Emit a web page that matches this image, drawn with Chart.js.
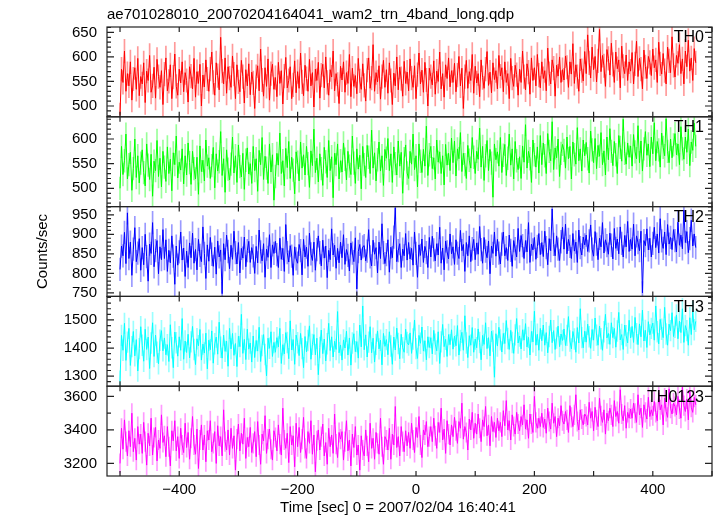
<!DOCTYPE html>
<html>
<head>
<meta charset="utf-8">
<script src="https://cdn.jsdelivr.net/npm/chart.js@4/dist/chart.umd.min.js"></script>
<style>
	html, body { margin: 0; padding: 0; background: #fff; }
	#wrap { width: 717px; height: 516px; }
</style>
</head>
<body>
<div id="wrap"><canvas id="lc"></canvas></div>
<script>
// light curve, 2.5 s bins starting at t = -500 s (15 bins per row)
var T_START = -500;
var T_STEP = 2.5;

var TH0 = [
	482, 575, 548, 612, 530, 566, 541, 590, 512, 555, 578, 534, 597, 521, 560,
	545, 588, 507, 571, 552, 603, 528, 541, 579, 516, 595, 560, 538, 572, 503,
	565, 598, 531, 550, 584, 515, 559, 606, 540, 522, 575, 547, 590, 529, 568,
	552, 508, 580, 561, 535, 597, 518, 570, 546, 585, 500, 563, 539, 594, 555,
	530, 575, 610, 548, 522, 588, 562, 533, 640, 571, 545, 598, 526, 580, 557,
	538, 602, 565, 515, 584, 549, 529, 593, 560, 506, 574, 541, 586, 523, 569,
	547, 495, 560, 582, 531, 616, 553, 520, 578, 540, 596, 512, 566, 585, 534,
	558, 519, 589, 546, 572, 504, 561, 599, 537, 552, 580, 515, 543, 592, 527,
	570, 536, 608, 549, 521, 583, 556, 530, 595, 541, 568, 498, 575, 552, 589,
	516, 563, 585, 537, 600, 548, 522, 574, 559, 612, 531, 566, 544, 505, 581,
	553, 590, 528, 568, 546, 605, 519, 577, 540, 562, 525, 597, 551, 534, 586,
	542, 510, 573, 598, 536, 557, 625, 530, 568, 549, 582, 514, 560, 593, 538,
	574, 526, 588, 552, 503, 567, 541, 600, 533, 579, 556, 520, 591, 546, 569,
	531, 596, 557, 538, 582, 515, 564, 608, 545, 573, 528, 589, 553, 500, 577,
	560, 543, 592, 524, 571, 550, 610, 535, 566, 518, 584, 556, 598, 539, 572,
	548, 587, 529, 563, 601, 541, 577, 495, 560, 593, 536, 570, 552, 605, 526,
	581, 547, 566, 519, 594, 558, 536, 575, 611, 542, 569, 527, 588, 554, 572,
	535, 603, 561, 578, 529, 590, 548, 566, 515, 597, 557, 540, 583, 564, 522,
	575, 548, 612, 560, 533, 586, 569, 524, 598, 552, 578, 541, 605, 563, 537,
	590, 556, 572, 531, 618, 566, 545, 594, 577, 520, 583, 561, 600, 548, 574,
	553, 602, 579, 538, 590, 565, 627, 546, 584, 560, 530, 596, 572, 551, 611,
	566, 645, 588, 557, 620, 574, 601, 549, 592, 656, 570, 603, 582, 540, 615,
	597, 563, 628, 585, 548, 610, 576, 594, 537, 622, 581, 566, 604, 552, 590,
	571, 609, 545, 586, 632, 560, 597, 575, 535, 614, 580, 556, 601, 589, 562,
	616, 578, 594, 548, 630, 586, 565, 607, 572, 545, 620, 592, 568, 641, 583,
	559, 603, 587, 625, 566, 596, 545, 612, 580, 634, 571, 598, 552, 617, 588
];

var TH1 = [
	500, 585, 528, 556, 610, 519, 548, 573, 496, 540, 600, 522, 566, 511, 551,
	578, 532, 505, 590, 547, 518, 569, 484, 555, 536, 597, 524, 561, 503, 575,
	543, 514, 584, 530, 559, 495, 572, 548, 606, 521, 553, 537, 580, 509, 566,
	527, 592, 552, 508, 575, 540, 519, 563, 488, 586, 534, 557, 515, 598, 545,
	562, 520, 546, 583, 501, 570, 535, 554, 615, 526, 560, 492, 578, 539, 517,
	549, 604, 531, 566, 512, 588, 544, 523, 571, 498, 557, 582, 529, 550, 510,
	585, 536, 560, 494, 577, 548, 603, 518, 565, 541, 510, 590, 533, 568, 476,
	524, 571, 547, 612, 530, 556, 505, 581, 542, 595, 520, 563, 537, 489, 574,
	553, 515, 594, 541, 568, 527, 585, 550, 502, 576, 546, 620, 532, 561, 513,
	570, 540, 506, 583, 554, 522, 597, 536, 564, 481, 571, 548, 590, 519, 556,
	533, 592, 559, 517, 575, 545, 528, 606, 551, 510, 580, 539, 567, 499, 585,
	548, 522, 587, 563, 530, 618, 541, 572, 515, 558, 594, 535, 566, 506, 579,
	561, 601, 536, 570, 512, 584, 550, 527, 596, 545, 573, 490, 560, 588, 531,
	520, 575, 549, 610, 538, 566, 503, 590, 555, 532, 579, 545, 626, 526, 568,
	585, 540, 562, 519, 598, 553, 574, 530, 566, 507, 589, 547, 571, 536, 602,
	552, 596, 525, 580, 560, 613, 534, 571, 548, 520, 587, 557, 541, 603, 563,
	530, 575, 559, 622, 543, 585, 516, 566, 597, 536, 579, 551, 482, 590, 558,
	574, 545, 603, 532, 567, 589, 526, 561, 610, 547, 580, 519, 595, 556, 538,
	564, 520, 586, 553, 629, 541, 575, 560, 512, 598, 568, 543, 584, 531, 607,
	548, 592, 566, 530, 611, 575, 556, 635, 538, 582, 562, 600, 524, 571, 589,
	577, 541, 604, 560, 585, 519, 594, 568, 549, 623, 556, 580, 535, 598, 566,
	593, 560, 531, 616, 578, 552, 601, 540, 587, 565, 613, 548, 576, 527, 604,
	558, 621, 575, 546, 595, 568, 530, 607, 583, 555, 640, 571, 549, 592, 563,
	586, 545, 609, 574, 560, 627, 552, 596, 535, 580, 615, 567, 590, 544, 604,
	570, 633, 556, 595, 578, 543, 612, 583, 566, 641, 575, 552, 600, 562, 588,
	611, 568, 590, 548, 625, 580, 559, 604, 573, 620, 546, 594, 577, 632, 585
];

var TH2 = [
	810, 870, 845, 905, 825, 955, 838, 880, 795, 862, 917, 830, 852, 889, 808,
	866, 822, 900, 843, 780, 875, 851, 930, 817, 858, 884, 799, 868, 835, 912,
	838, 886, 805, 859, 827, 896, 844, 772, 870, 821, 855, 906, 834, 865, 792,
	857, 815, 878, 840, 903, 826, 861, 809, 887, 846, 830, 919, 851, 787, 873,
	831, 892, 849, 818, 867, 798, 883, 842, 860, 748, 876, 835, 898, 856, 812,
	872, 836, 908, 853, 824, 879, 801, 864, 839, 893, 817, 858, 882, 828, 866,
	845, 800, 869, 827, 911, 855, 832, 876, 790, 862, 841, 899, 815, 873, 851,
	882, 848, 815, 890, 836, 864, 805, 925, 853, 829, 871, 844, 795, 868, 837,
	826, 874, 858, 796, 887, 842, 867, 818, 903, 850, 833, 880, 808, 861, 896,
	853, 819, 885, 839, 870, 789, 859, 835, 914, 847, 872, 813, 864, 827, 880,
	840, 899, 823, 861, 846, 806, 878, 852, 830, 891, 760, 856, 874, 834, 868,
	871, 832, 857, 912, 842, 819, 885, 849, 866, 801, 880, 838, 927, 853, 825,
	848, 886, 803, 867, 840, 893, 968, 830, 858, 876, 815, 862, 845, 902, 834,
	879, 837, 864, 821, 906, 851, 790, 873, 846, 888, 828, 869, 853, 815, 892,
	842, 895, 860, 832, 876, 847, 918, 826, 865, 809, 883, 855, 837, 901, 850,
	868, 823, 886, 852, 838, 910, 858, 874, 805, 879, 845, 896, 830, 863, 887,
	835, 878, 849, 920, 861, 826, 892, 857, 840, 883, 799, 870, 851, 906, 844,
	887, 852, 824, 875, 906, 845, 866, 833, 898, 859, 818, 884, 863, 842, 915,
	856, 897, 871, 838, 884, 855, 930, 828, 875, 860, 892, 836, 869, 902, 848,
	879, 843, 908, 866, 822, 889, 858, 965, 874, 845, 896, 862, 833, 881, 918,
	862, 926, 850, 887, 869, 838, 902, 857, 880, 828, 911, 866, 847, 893, 873,
	898, 856, 883, 924, 862, 844, 907, 875, 835, 890, 868, 930, 852, 886, 871,
	849, 903, 872, 837, 915, 864, 888, 850, 919, 877, 842, 897, 868, 933, 856,
	887, 862, 926, 845, 896, 879, 858, 908, 750, 884, 871, 914, 860, 890, 842,
	877, 918, 866, 901, 852, 940, 883, 864, 906, 848, 925, 875, 892, 861, 912,
	884, 855, 931, 872, 898, 863, 962, 879, 907, 853, 889, 936, 870, 901, 866
];

var TH3 = [
	1282, 1445, 1392, 1488, 1356, 1421, 1470, 1338, 1405, 1459, 1372, 1430, 1318, 1398, 1476,
	1410, 1353, 1467, 1395, 1439, 1327, 1418, 1490, 1370, 1446, 1385, 1344, 1428, 1462, 1390,
	1436, 1376, 1412, 1352, 1483, 1401, 1330, 1457, 1419, 1371, 1440, 1392, 1505, 1360, 1425,
	1384, 1449, 1365, 1422, 1477, 1395, 1341, 1433, 1408, 1466, 1357, 1414, 1382, 1453, 1326,
	1428, 1394, 1461, 1346, 1415, 1439, 1378, 1492, 1403, 1364, 1446, 1388, 1425, 1335, 1470,
	1397, 1452, 1374, 1416, 1334, 1442, 1405, 1520, 1381, 1431, 1359, 1467, 1396, 1418, 1350,
	1443, 1366, 1427, 1389, 1474, 1352, 1409, 1448, 1377, 1301, 1435, 1399, 1458, 1370, 1420,
	1385, 1437, 1404, 1470, 1345, 1412, 1379, 1455, 1420, 1362, 1497, 1393, 1430, 1342, 1446,
	1419, 1373, 1452, 1398, 1330, 1441, 1386, 1427, 1479, 1360, 1413, 1448, 1376, 1435, 1305,
	1402, 1464, 1380, 1432, 1354, 1415, 1488, 1391, 1440, 1368, 1424, 1395, 1530, 1383, 1411,
	1357, 1429, 1400, 1460, 1375, 1436, 1339, 1418, 1451, 1387, 1423, 1364, 1482, 1404, 1550,
	1394, 1447, 1368, 1421, 1476, 1383, 1435, 1350, 1413, 1461, 1397, 1428, 1340, 1452, 1406,
	1430, 1376, 1458, 1407, 1342, 1439, 1393, 1471, 1416, 1362, 1449, 1401, 1385, 1467, 1420,
	1411, 1454, 1381, 1432, 1500, 1398, 1363, 1445, 1417, 1475, 1389, 1426, 1358, 1440, 1402,
	1437, 1379, 1463, 1414, 1390, 1458, 1345, 1422, 1484, 1405, 1431, 1370, 1448, 1412, 1465,
	1396, 1442, 1408, 1480, 1375, 1427, 1456, 1392, 1515, 1418, 1366, 1444, 1410, 1473, 1385,
	1432, 1401, 1468, 1420, 1358, 1445, 1413, 1490, 1398, 1437, 1372, 1460, 1425, 1296, 1451,
	1407, 1474, 1429, 1386, 1452, 1416, 1498, 1434, 1395, 1463, 1420, 1381, 1447, 1505, 1418,
	1443, 1397, 1465, 1428, 1487, 1404, 1438, 1375, 1459, 1422, 1531, 1410, 1449, 1392, 1470,
	1426, 1482, 1410, 1455, 1383, 1441, 1500, 1419, 1462, 1395, 1436, 1478, 1405, 1450, 1427,
	1468, 1409, 1445, 1512, 1425, 1397, 1459, 1432, 1385, 1473, 1418, 1540, 1437, 1401, 1460,
	1421, 1485, 1440, 1399, 1466, 1428, 1507, 1446, 1410, 1478, 1433, 1392, 1458, 1520, 1436,
	1452, 1413, 1490, 1437, 1470, 1403, 1461, 1527, 1429, 1448, 1395, 1482, 1444, 1418, 1499,
	1436, 1477, 1420, 1509, 1451, 1412, 1486, 1440, 1535, 1425, 1463, 1402, 1494, 1447, 1470,
	1489, 1428, 1550, 1458, 1415, 1502, 1467, 1437, 1545, 1450, 1410, 1485, 1462, 1526, 1441,
	1474, 1518, 1433, 1496, 1455, 1540, 1420, 1480, 1462, 1410, 1508, 1448, 1530, 1465, 1495
];

var TH0123 = [
	3200, 3410, 3285, 3460, 3330, 3245, 3395, 3300, 3500, 3270, 3350, 3220, 3420, 3315, 3375,
	3260, 3445, 3330, 3190, 3380, 3305, 3470, 3250, 3355, 3415, 3215, 3340, 3290, 3490, 3325,
	3365, 3240, 3420, 3300, 3185, 3395, 3335, 3455, 3275, 3360, 3230, 3410, 3310, 3265, 3440,
	3295, 3385, 3225, 3350, 3480, 3310, 3255, 3405, 3170, 3340, 3430, 3280, 3370, 3210, 3395,
	3340, 3455, 3270, 3320, 3390, 3200, 3425, 3305, 3360, 3245, 3520, 3330, 3280, 3400, 3250,
	3410, 3290, 3365, 3160, 3345, 3435, 3275, 3380, 3315, 3470, 3230, 3355, 3300, 3415, 3265,
	3320, 3390, 3240, 3450, 3310, 3195, 3375, 3335, 3485, 3260, 3345, 3405, 3285, 3220, 3395,
	3355, 3275, 3430, 3315, 3250, 3530, 3340, 3290, 3380, 3205, 3420, 3310, 3365, 3180, 3440,
	3300, 3415, 3265, 3345, 3475, 3290, 3230, 3390, 3320, 3455, 3255, 3370, 3150, 3335, 3400,
	3280, 3360, 3435, 3245, 3325, 3195, 3410, 3300, 3370, 3260, 3495, 3315, 3235, 3385, 3345,
	3390, 3220, 3330, 3455, 3275, 3340, 3185, 3375, 3295, 3420, 3250, 3310, 3160, 3365, 3280,
	3245, 3400, 3305, 3210, 3440, 3290, 3350, 3225, 3385, 3320, 3255, 3470, 3300, 3195, 3360,
	3340, 3280, 3410, 3225, 3375, 3310, 3540, 3295, 3360, 3245, 3420, 3330, 3270, 3395, 3305,
	3385, 3290, 3440, 3340, 3265, 3415, 3355, 3480, 3310, 3235, 3400, 3370, 3450, 3300, 3360,
	3420, 3330, 3470, 3365, 3290, 3445, 3385, 3530, 3340, 3405, 3260, 3455, 3375, 3310, 3430,
	3360, 3475, 3395, 3320, 3450, 3410, 3560, 3345, 3420, 3385, 3280, 3465, 3400, 3505, 3350,
	3440, 3375, 3495, 3410, 3330, 3460, 3420, 3540, 3365, 3430, 3305, 3480, 3390, 3445, 3355,
	3470, 3395, 3445, 3360, 3515, 3425, 3575, 3400, 3455, 3340, 3490, 3420, 3375, 3505, 3435,
	3395, 3480, 3430, 3550, 3405, 3460, 3350, 3495, 3435, 3385, 3600, 3445, 3410, 3470, 3420,
	3500, 3415, 3465, 3380, 3530, 3450, 3405, 3560, 3440, 3480, 3360, 3470, 3425, 3545, 3455,
	3435, 3510, 3460, 3385, 3545, 3475, 3420, 3490, 3610, 3450, 3400, 3520, 3465, 3430, 3495,
	3480, 3430, 3565, 3470, 3510, 3395, 3535, 3460, 3420, 3590, 3485, 3445, 3520, 3375, 3500,
	3455, 3530, 3490, 3420, 3575, 3480, 3510, 3440, 3640, 3495, 3455, 3545, 3410, 3505, 3470,
	3525, 3470, 3560, 3500, 3445, 3610, 3490, 3530, 3415, 3550, 3505, 3465, 3595, 3480, 3520,
	3485, 3570, 3505, 3455, 3620, 3520, 3550, 3430, 3590, 3510, 3475, 3645, 3530, 3495, 3560,
	3540, 3490, 3600, 3525, 3470, 3655, 3545, 3510, 3585, 3460, 3630, 3535, 3505, 3595, 3550
];

var PANEL_NAMES = ["TH0", "TH1", "TH2", "TH3", "TH0123"];
var PANEL_COLORS = ["#ff0000", "#00ff00", "#0000ff", "#00ffff", "#ff00ff"];
var PANEL_ERR_COLORS = ["rgba(255,0,0,0.4)", "rgba(0,255,0,0.4)", "rgba(0,0,255,0.4)", "rgba(0,255,255,0.4)", "rgba(255,0,255,0.4)"];
var PANEL_SERIES = [TH0, TH1, TH2, TH3, TH0123];
// 1 sigma error bar size, counts/sec
var PANEL_ERR = [24, 23, 29, 37, 58];
var PANEL_MIN = [478, 463, 741, 1264, 3125];
var PANEL_MAX = [661, 645, 971, 1584, 3661];
var PANEL_TICKS = [
	[500, 550, 600, 650],
	[500, 550, 600],
	[750, 800, 850, 900, 950],
	[1300, 1400, 1500],
	[3200, 3400, 3600]
];
var PANEL_MINOR = [10, 10, 10, 20, 100];

var X_MIN = -522;
var X_MAX = 500;
var X_TICKS = [-400, -200, 0, 200, 400];
var X_MINOR = 100;

var TITLE = "ae701028010_20070204164041_wam2_trn_4band_long.qdp";
var X_TITLE = "Time [sec] 0 = 2007/02/04 16:40:41";
var Y_TITLE = "Counts/sec";

var FONT = "'Liberation Sans', Arial, Helvetica, sans-serif";



function toPoints(serie) {
	var pts = new Array();
	for (var i = 0; i < serie.length; i++) {
		pts.push({ x: T_START + T_STEP * i, y: serie[i] });
	}
	return pts;
}

function toErrBars(serie, err) {
	var bars = new Array();
	for (var i = 0; i < serie.length; i++) {
		bars.push({ x: T_START + T_STEP * i, y: [serie[i] - err, serie[i] + err] });
	}
	return bars;
}

var datasets = new Array();
var scales = {
	x: {
		type: "linear",
		position: "bottom",
		min: X_MIN,
		max: X_MAX,
		offset: false,
		grid: { display: false, drawTicks: false, offset: false },
		border: { display: false },
		afterBuildTicks: function (s) {
			s.ticks = X_TICKS.map(function (v) { return { value: v }; });
		},
		afterFit: function (s) { s.height = 40; },
		ticks: {
			color: "#000",
			padding: 5,
			maxRotation: 0,
			autoSkip: false,
			font: { family: FONT, size: 15 },
			callback: function (v) { return String(v).replace("-", "\u2212"); }
		}
	}
};

for (var p = 0; p < 5; p++) {
	var id = "y" + p;
	datasets.push({
		type: "line",
		label: PANEL_NAMES[p],
		data: toPoints(PANEL_SERIES[p]),
		yAxisID: id,
		order: 1,
		borderColor: PANEL_COLORS[p],
		backgroundColor: PANEL_COLORS[p],
		borderWidth: 1,
		pointRadius: 0,
		tension: 0,
		fill: false
	});
	datasets.push({
		type: "bar",
		label: PANEL_NAMES[p] + " err",
		data: toErrBars(PANEL_SERIES[p], PANEL_ERR[p]),
		yAxisID: id,
		order: 2,
		grouped: false,
		barThickness: 1,
		backgroundColor: PANEL_ERR_COLORS[p],
		borderWidth: 0
	});
	(function (p) {
		scales[id] = {
			type: "linear",
			position: "left",
			stack: "panels",
			stackWeight: 1,
			weight: 5 - p,
			min: PANEL_MIN[p],
			max: PANEL_MAX[p],
			grid: { display: false, drawTicks: false },
			border: { display: false },
			afterBuildTicks: function (s) {
				s.ticks = PANEL_TICKS[p].map(function (v) { return { value: v }; });
			},
			afterFit: function (s) { s.width = 107; },
			ticks: {
				color: "#000",
				padding: 10,
				autoSkip: false,
				font: { family: FONT, size: 15 },
				callback: function (v) { return String(v); }
			}
		};
	})(p);
}



// frames, inward ticks and the texts, qdp style
var qdpDecor = {
	id: "qdpDecor",
	afterDraw: function (chart) {
		var ctx = chart.ctx;
		var area = chart.chartArea;
		var xs = chart.scales.x;
		ctx.save();
		ctx.strokeStyle = "#222";
		ctx.lineWidth = 1.2;

		for (var p = 0; p < 5; p++) {
			var ys = chart.scales["y" + p];
			ctx.strokeRect(area.left, ys.top, area.right - area.left, ys.bottom - ys.top);

			ctx.beginPath();
			// y ticks, left and right edges
			var v0 = Math.ceil(ys.min / PANEL_MINOR[p]) * PANEL_MINOR[p];
			for (var v = v0; v <= ys.max; v += PANEL_MINOR[p]) {
				var major = PANEL_TICKS[p].indexOf(v) >= 0;
				var len = major ? 7 : 4;
				var py = ys.getPixelForValue(v);
				ctx.moveTo(area.left, py);
				ctx.lineTo(area.left + len, py);
				ctx.moveTo(area.right, py);
				ctx.lineTo(area.right - len, py);
			}
			// x ticks, top and bottom of every panel
			var t0 = Math.ceil(X_MIN / X_MINOR) * X_MINOR;
			for (var t = t0; t <= X_MAX; t += X_MINOR) {
				var px = xs.getPixelForValue(t);
				ctx.moveTo(px, ys.bottom);
				ctx.lineTo(px, ys.bottom - 5);
				ctx.moveTo(px, ys.top);
				ctx.lineTo(px, ys.top + 5);
			}
			ctx.stroke();

			ctx.fillStyle = "#000";
			ctx.font = "16px " + FONT;
			ctx.textAlign = "right";
			ctx.textBaseline = "middle";
			ctx.fillText(PANEL_NAMES[p], area.right - 8, ys.top + 11);
		}

		ctx.fillStyle = "#000";
		ctx.font = "15px " + FONT;
		ctx.textAlign = "left";
		ctx.textBaseline = "middle";
		ctx.fillText(TITLE, area.left, 15);

		ctx.textAlign = "center";
		ctx.fillText(X_TITLE, 398, 508);

		ctx.translate(43, (area.top + area.bottom) / 2);
		ctx.rotate(-Math.PI / 2);
		ctx.fillText(Y_TITLE, 0, 0);
		ctx.restore();
	}
};

var ctx = document.getElementById("lc").getContext("2d");
new Chart(ctx, {
	data: { datasets: datasets },
	options: {
		responsive: true,
		maintainAspectRatio: false,
		animation: false,
		layout: { padding: { top: 27, right: 5, left: 0, bottom: 0 } },
		plugins: {
			legend: { display: false },
			tooltip: { enabled: false },
			title: { display: false }
		},
		scales: scales
	},
	plugins: [qdpDecor]
});
</script>
</body>
</html>
